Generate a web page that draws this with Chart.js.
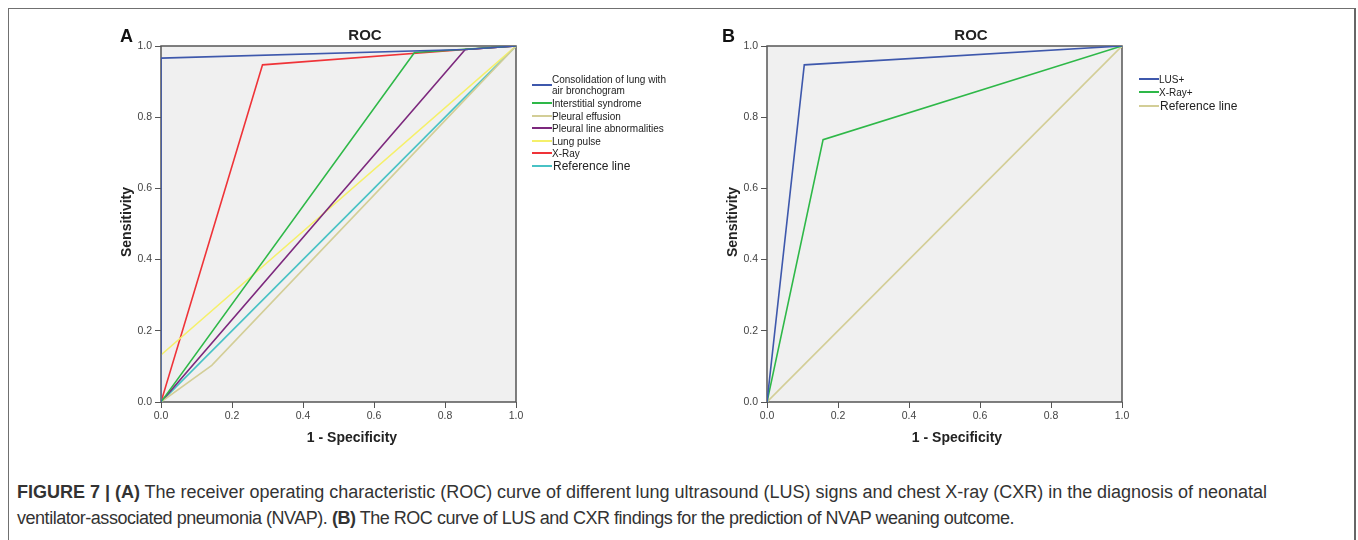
<!DOCTYPE html>
<html>
<head>
<meta charset="utf-8">
<script src="https://cdn.jsdelivr.net/npm/chart.js@4.4.0/dist/chart.umd.min.js"></script>
<style>
  body { margin: 0; width: 1358px; height: 540px; background: #fff; position: relative; overflow: hidden;
         font-family: "Liberation Sans", Arial, sans-serif; }
  #frame { position: absolute; left: 8px; top: 8px; width: 1345px; height: 600px;
           border: 1px solid #707070; border-right: 2px solid #666; }
  canvas { position: absolute; top: 0; }
  .t { position: absolute; white-space: nowrap; color: #222; line-height: 1; }
  .panel { font-weight: bold; font-size: 18px; color: #111; }
  .roc { font-weight: bold; font-size: 15px; transform: translateX(-50%); }
  .xt { font-weight: bold; font-size: 14px; transform: translateX(-50%); }
  .yt { font-weight: bold; font-size: 14px; transform: translate(-50%, -50%) rotate(-90deg); }
  .lg { position: absolute; white-space: nowrap; color: #222; font-size: 10px; line-height: 11px; }
  .lg i { position: absolute; left: 0; top: 50%; width: 20px; height: 2px; margin-top: -1px; }
  .lg span { position: absolute; left: 20px; top: 50%; transform: translateY(-50%); }
  .cap { position: absolute; left: 17px; white-space: nowrap; font-family: "Liberation Sans Narrow", "Liberation Sans", Arial, sans-serif;
         font-size: 18px; line-height: 20px; color: #333; }
</style>
</head>
<body>
<div id="frame"></div>
<canvas id="chartA" width="540" height="460" style="left:0px"></canvas>
<canvas id="chartB" width="546" height="460" style="left:600px"></canvas>

<div class="t panel" style="left:120px; top:27px">A</div>
<div class="t panel" style="left:722px; top:27px">B</div>
<div class="t roc" style="left:365px; top:27px">ROC</div>
<div class="t roc" style="left:971px; top:27px">ROC</div>
<div class="t xt" style="left:352px; top:430px">1 - Specificity</div>
<div class="t xt" style="left:957px; top:430px">1 - Specificity</div>
<div class="t yt" style="left:126px; top:222px">Sensitivity</div>
<div class="t yt" style="left:732px; top:222px">Sensitivity</div>

<div class="cap" id="cap1" style="top:482px"><b>FIGURE 7 | (A)</b> The receiver operating characteristic (ROC) curve of different lung ultrasound (LUS) signs and chest X-ray (CXR) in the diagnosis of neonatal</div>
<div class="cap" id="cap2" style="top:508px">ventilator-associated pneumonia (NVAP). <b>(B)</b> The ROC curve of LUS and CXR findings for the prediction of NVAP weaning outcome.</div>

<script>
// tick labels
const tickValues = [0, 0.2, 0.4, 0.6, 0.8, 1.0];

// panel A: ROC curves (1 - specificity, sensitivity)
const labelsA = ['Consolidation of lung with\nair bronchogram', 'Interstitial syndrome', 'Pleural effusion',
                 'Pleural line abnormalities', 'Lung pulse', 'X-Ray', 'Reference line'];
const colorsA = ['#3E58AC', '#2EB848', '#D3CE97', '#7C287D', '#F5F06A', '#EF3338', '#48C2C5'];
const consolidationX = [0, 0, 0.857, 1];
const consolidationY = [0, 0.966, 0.99, 1];
const interstitialX = [0, 0.714, 1];
const interstitialY = [0, 0.982, 1];
const effusionX = [0, 0.143, 1];
const effusionY = [0, 0.103, 1];
const pleuralLineX = [0, 0.857, 1];
const pleuralLineY = [0, 0.99, 1];
const lungPulseX = [0, 0, 1];
const lungPulseY = [0, 0.132, 1];
const xrayX = [0, 0.286, 0.857, 1];
const xrayY = [0, 0.947, 0.99, 1];
const refX = [0, 1];
const refY = [0, 1];

// panel B
const labelsB = ['LUS+', 'X-Ray+', 'Reference line'];
const colorsB = ['#3E58AC', '#2EB848', '#D3CE97'];
const lusX = [0, 0.105, 1];
const lusY = [0, 0.947, 1];
const xrayBX = [0, 0.158, 1];
const xrayBY = [0, 0.737, 1];

function pts(xs, ys) {
  return xs.map((x, i) => ({ x: x, y: ys[i] }));
}

const plotFrame = {
  id: 'plotFrame',
  beforeDatasetsDraw(chart) {
    const { ctx, chartArea: a } = chart;
    ctx.save();
    ctx.fillStyle = '#f0f0f0';
    ctx.fillRect(a.left, a.top, a.right - a.left, a.bottom - a.top);
    ctx.strokeStyle = '#555';
    ctx.lineWidth = 1.5;
    ctx.strokeRect(a.left, a.top, a.right - a.left, a.bottom - a.top);
    ctx.restore();
  }
};

function axis(extra) {
  return Object.assign({
    type: 'linear', min: 0, max: 1,
    afterBuildTicks: s => { s.ticks = tickValues.map(v => ({ value: v })); },
    grid: { drawOnChartArea: false, drawTicks: true, tickLength: 6, color: '#555', lineWidth: 1 },
    border: { display: false },
    ticks: {
      callback: v => v.toFixed(1),
      font: { family: '"Liberation Sans", Arial', size: 10.5 },
      color: '#444'
    }
  }, extra);
}

function makeChart(id, labels, colors, series, yWidth) {
  new Chart(document.getElementById(id), {
    type: 'line',
    data: {
      datasets: series.map((s, i) => ({
        label: labels[i],
        data: pts(s[0], s[1]),
        borderColor: colors[i],
        borderWidth: 1.6,
        pointRadius: 0,
        tension: 0,
        fill: false
      }))
    },
    options: {
      responsive: false,
      animation: false,
      devicePixelRatio: 1,
      layout: { padding: { left: 0, right: 24, top: 46, bottom: 0 } },
      plugins: { legend: { display: false }, tooltip: { enabled: false } },
      scales: {
        x: axis({ afterFit: s => { s.height = 58; }, ticks: Object.assign({}, axis({}).ticks, { padding: 2 }) }),
        y: axis({ afterFit: s => { s.width = yWidth; }, ticks: Object.assign({}, axis({}).ticks, { padding: 3 }) })
      }
    },
    plugins: [plotFrame]
  });
}

makeChart('chartA', labelsA, colorsA, [
  [consolidationX, consolidationY], [interstitialX, interstitialY], [effusionX, effusionY],
  [pleuralLineX, pleuralLineY], [lungPulseX, lungPulseY], [xrayX, xrayY], [refX, refY]
], 161);

makeChart('chartB', labelsB, colorsB, [
  [lusX, lusY], [xrayBX, xrayBY], [refX, refY]
], 167);

// legends
function legend(labels, colors, left, centers, big) {
  labels.forEach((lab, i) => {
    const d = document.createElement('div');
    d.className = 'lg';
    d.style.left = left + 'px';
    d.style.top = (centers[i] - 6) + 'px';
    d.style.height = '12px';
    d.style.width = '160px';
    const line = document.createElement('i');
    line.style.background = colors[i];
    const sp = document.createElement('span');
    sp.innerHTML = lab.replace('\n', '<br>');
    if (lab === big) { sp.style.fontSize = '12px'; sp.style.left = '21px'; }
    d.appendChild(line);
    d.appendChild(sp);
    document.body.appendChild(d);
  });
}
legend(labelsA, colorsA, 532, [84.5, 102.7, 115.7, 127.7, 140.7, 153, 165.7], 'Reference line');
legend(labelsB, colorsB, 1139, [79, 91.7, 106], 'Reference line');

// fit each caption line to its width in the figure
function fit(el, target) {
  const w = el.getBoundingClientRect().width;
  el.style.letterSpacing = ((target - w) / el.textContent.length) + 'px';
}
fit(document.getElementById('cap1'), 1250);
fit(document.getElementById('cap2'), 997);
</script>
</body>
</html>
